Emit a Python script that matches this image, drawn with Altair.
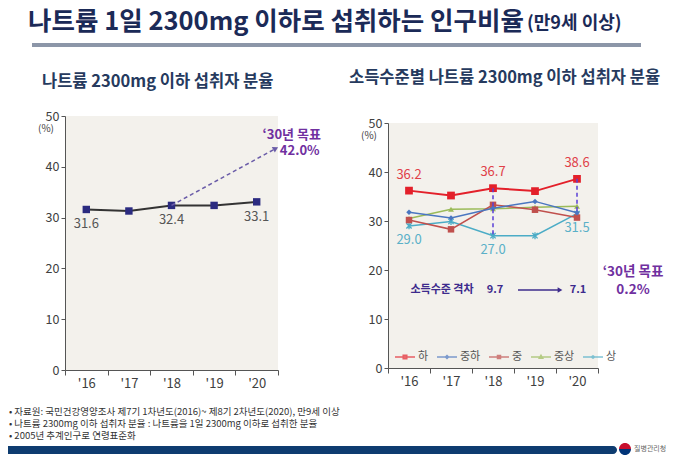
import altair as alt
import pandas as pd

FONT = "Noto Sans CJK KR"

title_main = "나트륨 1일 2300mg 이하로 섭취하는 인구비율"
title_sub = "(만9세 이상)"
left_title = "나트륨 2300mg 이하 섭취자 분율"
right_title = "소득수준별 나트륨 2300mg 이하 섭취자 분율"
footnotes = [
    "• 자료원: 국민건강영양조사 제7기 1차년도(2016)~ 제8기 2차년도(2020), 만9세 이상",
    "• 나트륨 2300mg 이하 섭취자 분율 : 나트륨을 1일 2300mg 이하로 섭취한 분율",
    "• 2005년 추계인구로 연령표준화",
]
agency = "질병관리청"
pct_unit = "(%)"

years = ["'16", "'17", "'18", "'19", "'20"]
y_ticks = [0, 10, 20, 30, 40, 50]

# left panel
total = [31.6, 31.3, 32.4, 32.4, 33.1]
total_label_years = ["'16", "'18", "'20"]
total_label_values = [31.6, 32.4, 33.1]
left_target_texts = ["‘30년 목표", "42.0%"]
left_arrow_from = ("'18", 32.4)
left_arrow_to = ("'20", 43.6)

# right panel
groups = ["하", "중하", "중", "중상", "상"]
low = [36.2, 35.2, 36.7, 36.1, 38.6]
midlow = [31.8, 30.6, 32.6, 34.0, 31.7]
mid = [30.2, 28.3, 33.3, 32.3, 30.7]
midhigh = [30.5, 32.4, 32.5, 32.8, 33.0]
high = [29.0, 29.9, 27.0, 27.0, 31.5]
series = [low, midlow, mid, midhigh, high]

gap_years = ["'18", "'20"]
gap_label = "소득수준 격차"
gap_values = ["9.7", "7.1"]
gap_y = 15.9
right_target_texts = ["‘30년 목표", "0.2%"]

# ---------------- styles ----------------
BG = "#f3f1ec"
NAVY = "#1b2a57"
PURPLE = "#7030a0"
DPURPLE = "#3d2b8c"
AX = "#555555"
LAB = "#404040"
colors = ["#e3202a", "#4a76c0", "#c0504d", "#9bbb59", "#4bacc6"]
W1, H1 = 213, 254
W2, H2 = 210, 252
RIGHT_X0 = 323  # right plot origin relative to left plot origin

def xaxis():
    return alt.Axis(title=None, labelAngle=0, tickBand="extent", labelFontSize=13,
                    labelColor=LAB, labelFont=FONT, tickColor=AX, domainColor=AX,
                    tickSize=5, labelPadding=2, zindex=1, grid=False)

def yaxis():
    return alt.Axis(title=None, values=y_ticks, tickSize=4, labelPadding=2,
                    labelFontSize=12.5, labelColor=LAB, labelFont=FONT,
                    tickColor=AX, domainColor=AX, grid=False, zindex=1)

xscale = alt.Scale(domain=years, paddingInner=0, paddingOuter=0)
X = alt.X("year:N", scale=xscale, axis=xaxis())
Y1 = alt.Y("v:Q", scale=alt.Scale(domain=[0, 50]), axis=yaxis())
Y2 = alt.Y("v:Q", scale=alt.Scale(domain=[0, 50], range=[H2, 7]), axis=yaxis())

one = pd.DataFrame({"k": [0]})

def txt(x, y, s, size, color, weight="normal", align="left", baseline="middle"):
    return alt.Chart(one).mark_text(font=FONT, fontSize=size, color=color, fontWeight=weight,
                                    align=align, baseline=baseline).encode(
        x=alt.value(x), y=alt.value(y), text=alt.value(s))

# ---------------- left panel ----------------
df_l = pd.DataFrame({"year": years, "v": total})
df_l_lab = pd.DataFrame({"year": total_label_years, "v": total_label_values})
df_arrow = pd.DataFrame({"year": [left_arrow_from[0]], "v": [left_arrow_from[1]],
                         "year2": [left_arrow_to[0]], "v2": [left_arrow_to[1]]})
df_arrow_head = pd.DataFrame({"year": [left_arrow_to[0]], "v": [left_arrow_to[1]]})
df_lt1 = pd.DataFrame({"year": ["'20"], "v": [46.3], "t": [left_target_texts[0]]})
df_lt2 = pd.DataFrame({"year": ["'20"], "v": [43.1], "t": [left_target_texts[1]]})

canvas = alt.Chart(one).mark_rect(color="white").encode(
    x=alt.value(-57), x2=alt.value(603), y=alt.value(-108), y2=alt.value(338))
bg1 = alt.Chart(one).mark_rect(color=BG).encode(
    x=alt.value(0), x2=alt.value(W1), y=alt.value(0), y2=alt.value(H1))

deco = [
    txt(-37, -86, title_main, 25.5, NAVY, "bold", baseline="alphabetic"),
    txt(462, -87, title_sub, 18, NAVY, "bold", baseline="alphabetic"),
    alt.Chart(one).mark_rule(color="#8c96a8", strokeWidth=4).encode(
        x=alt.value(-33), x2=alt.value(576), y=alt.value(-71)),
    txt(-23, -34, left_title, 16.5, "#263a5e", "bold"),
    txt(284, -38, right_title, 16.5, "#263a5e", "bold"),
    txt(-19, 13, pct_unit, 10, LAB, align="center"),
    txt(-56, 296, footnotes[0], 9.5, "#333333"),
    txt(-56, 308, footnotes[1], 9.5, "#333333"),
    txt(-56, 320, footnotes[2], 9.5, "#333333"),
    alt.Chart(one).mark_rect(color="#0e3c70", cornerRadiusTopRight=4, cornerRadiusBottomRight=4).encode(
        x=alt.value(-57), x2=alt.value(552), y=alt.value(330), y2=alt.value(338)),
    alt.Chart(one).mark_point(shape="M-1,0A1,1 0 0,1 1,0Z", filled=True, size=144, color="#c8102e", opacity=1).encode(
        x=alt.value(560), y=alt.value(333)),
    alt.Chart(one).mark_point(shape="M-1,0A1,1 0 0,0 1,0Z", filled=True, size=144, color="#003478", opacity=1).encode(
        x=alt.value(560), y=alt.value(333)),
    txt(569, 333, agency, 7, "#666666"),
]

left_layers = [canvas, bg1] + deco + [
    alt.Chart(df_l).mark_line(color="#333333", strokeWidth=2).encode(x=X, y=Y1),
    alt.Chart(df_l).mark_square(size=55, color="#2b2b80", opacity=1).encode(x=X, y=Y1),
    alt.Chart(df_l_lab).mark_text(font=FONT, fontSize=13, color="#555555", dy=15).encode(
        x=X, y=Y1, text=alt.Text("v:Q", format=".1f")),
    alt.Chart(df_arrow).mark_rule(color="#6a5ca8", strokeWidth=1.5, strokeDash=[4, 3], x2Offset=19).encode(
        x=X, y=Y1, x2="year2:N", y2="v2:Q"),
    alt.Chart(df_arrow_head).mark_point(shape="triangle-up", angle=61, filled=True, size=40,
                                        color="#6a5ca8", opacity=1, xOffset=19).encode(x=X, y=Y1),
    alt.Chart(df_lt1).mark_text(font=FONT, fontSize=13, fontWeight="bold", color=PURPLE, dx=35).encode(
        x=X, y=Y1, text="t:N"),
    alt.Chart(df_lt2).mark_text(font=FONT, fontSize=13, fontWeight="bold", color=PURPLE, dx=43).encode(
        x=X, y=Y1, text="t:N"),
]
left = alt.layer(*left_layers).properties(width=W1, height=H1)

# ---------------- right panel ----------------
rows = []
for g, vals in zip(groups, series):
    for yr, v in zip(years, vals):
        rows.append({"grp": g, "year": yr, "v": v})
df_r = pd.DataFrame(rows)

bg2 = alt.Chart(one).mark_rect(color=BG).encode(
    x=alt.value(0), x2=alt.value(W2), y=alt.value(7), y2=alt.value(H2))

point_styles = [
    dict(shape="square", filled=True, size=60),
    dict(shape="diamond", filled=True, size=30),
    dict(shape="square", filled=True, size=42),
    dict(shape="triangle-up", filled=True, size=35),
    dict(shape="M-1,-1L1,1M-1,1L1,-1M0,-1.3V1.3", filled=False, size=28, strokeWidth=1.3),
]
line_widths = [2, 1.5, 1.5, 1.5, 1.5]

series_layers = []
for i in reversed(range(len(groups))):
    g = groups[i]
    sub = alt.Chart(df_r).transform_filter(alt.datum.grp == g)
    series_layers.append(sub.mark_line(color=colors[i], strokeWidth=line_widths[i]).encode(x=X, y=Y2))
    series_layers.append(sub.mark_point(color=colors[i], opacity=1, **point_styles[i]).encode(x=X, y=Y2))

legend_paths = [
    "M-1,0H1M-0.18,-0.18H0.18V0.18H-0.18Z",
    "M-1,0H1M0,-0.15L0.15,0L0,0.15L-0.15,0Z",
    "M-1,0H1M-0.15,-0.15H0.15V0.15H-0.15Z",
    "M-1,0H1M0,-0.17L0.17,0.12H-0.17Z",
    "M-1,0H1M-0.12,-0.12L0.12,0.12M-0.12,0.12L0.12,-0.12M0,-0.17V0.17",
]

def leg():
    return alt.Legend(orient="none", legendX=RIGHT_X0 + 6, legendY=230, direction="horizontal", title=None,
                      labelFontSize=11, labelFont=FONT, labelColor="#555555", symbolSize=400,
                      symbolStrokeWidth=1.5, columnPadding=5, labelOffset=2)

legend_layer = alt.Chart(pd.DataFrame({"grp": groups})).transform_filter("false").mark_point(filled=True).encode(
    fill=alt.Fill("grp:N", scale=alt.Scale(domain=groups, range=colors), legend=leg()),
    stroke=alt.Stroke("grp:N", scale=alt.Scale(domain=groups, range=colors), legend=leg()),
    shape=alt.Shape("grp:N", scale=alt.Scale(domain=groups, range=legend_paths), legend=leg()),
)

lab_years = ["'16", "'18", "'20"]
df_red = pd.DataFrame({"year": lab_years, "v": [low[0], low[2], low[4]]})
df_cyan = pd.DataFrame({"year": lab_years, "v": [high[0], high[2], high[4]]})
df_gap = pd.DataFrame({"year": gap_years, "v": [low[2], low[4]], "v2": [high[2], high[4]]})
df_gapline = pd.DataFrame({"year": ["'18"], "year2": ["'20"], "v": [gap_y]})
df_gaphead = pd.DataFrame({"year": ["'20"], "v": [gap_y]})
df_gaplab = pd.DataFrame({"year": ["'17"], "v": [gap_y], "t": [gap_label]})
df_gapv1 = pd.DataFrame({"year": ["'18"], "v": [gap_y], "t": [gap_values[0]]})
df_gapv2 = pd.DataFrame({"year": ["'20"], "v": [gap_y], "t": [gap_values[1]]})
df_rt1 = pd.DataFrame({"year": ["'20"], "v": [19.6], "t": [right_target_texts[0]]})
df_rt2 = pd.DataFrame({"year": ["'20"], "v": [15.9], "t": [right_target_texts[1]]})

right_layers = [bg2] + series_layers + [
    legend_layer,
    alt.Chart(df_gap).mark_rule(color="#5a3fd6", strokeWidth=1.5, strokeDash=[4, 3]).encode(
        x=X, y=Y2, y2="v2:Q"),
    alt.Chart(df_red).mark_text(font=FONT, fontSize=13, color="#e04048", dy=-16).encode(
        x=X, y=Y2, text=alt.Text("v:Q", format=".1f")),
    alt.Chart(df_cyan).mark_text(font=FONT, fontSize=13, color="#5ab0c8", dy=14).encode(
        x=X, y=Y2, text=alt.Text("v:Q", format=".1f")),
    alt.Chart(df_gapline).mark_rule(color=DPURPLE, strokeWidth=1.5, xOffset=25, x2Offset=-18).encode(
        x=X, x2="year2:N", y=Y2),
    alt.Chart(df_gaphead).mark_point(shape="triangle-right", filled=True, size=30, color=DPURPLE,
                                     opacity=1, xOffset=-17).encode(x=X, y=Y2),
    alt.Chart(df_gaplab).mark_text(font=FONT, fontSize=11, fontWeight="bold", color=DPURPLE, dx=-9).encode(
        x=X, y=Y2, text="t:N"),
    alt.Chart(df_gapv1).mark_text(font=FONT, fontSize=11, fontWeight="bold", color=DPURPLE, dx=2).encode(
        x=X, y=Y2, text="t:N"),
    alt.Chart(df_gapv2).mark_text(font=FONT, fontSize=11, fontWeight="bold", color=DPURPLE, dx=1).encode(
        x=X, y=Y2, text="t:N"),
    alt.Chart(df_rt1).mark_text(font=FONT, fontSize=13.5, fontWeight="bold", color=PURPLE, dx=56).encode(
        x=X, y=Y2, text="t:N"),
    alt.Chart(df_rt2).mark_text(font=FONT, fontSize=13.5, fontWeight="bold", color=PURPLE, dx=56).encode(
        x=X, y=Y2, text="t:N"),
    txt(-19, 20, pct_unit, 10, LAB, align="center"),
]
right = alt.layer(*right_layers).properties(width=W2, height=H2)

chart = alt.hconcat(left, right, spacing=110, bounds="flush").properties(
    padding=0, background="white"
).configure_view(stroke=None)

chart.save("out.html", embed_options={"renderer": "svg", "actions": False})
